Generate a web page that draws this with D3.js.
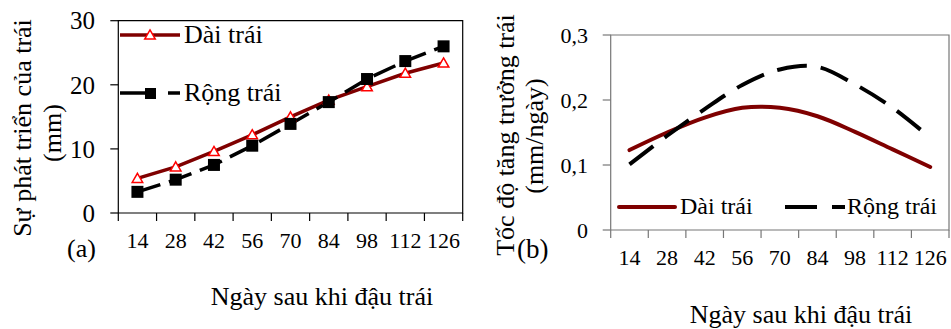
<!DOCTYPE html>
<html>
<head>
<meta charset="utf-8">
<script src="https://cdn.jsdelivr.net/npm/d3@7"></script>
<style>
  body { margin: 0; background: #fff; }
  text { font-family: "Liberation Serif", "Times New Roman", serif; fill: #000; }
</style>
</head>
<body>
<svg id="svg"></svg>
<script>
// days after fruit set
var days = [14, 28, 42, 56, 70, 84, 98, 112, 126];

// (a) fruit size, mm
var lengthMm = [5.4, 7.2, 9.6, 12.2, 15.0, 17.6, 19.7, 21.8, 23.4];
var widthMm  = [3.3, 5.2, 7.5, 10.5, 13.9, 17.3, 20.9, 23.7, 26.0];
var ticksA = [0, 10, 20, 30];

// (b) growth rate, mm/day
var lengthRate = [0.123, 0.150, 0.173, 0.188, 0.188, 0.175, 0.151, 0.124, 0.097];
var widthRate  = [0.101, 0.145, 0.186, 0.223, 0.247, 0.251, 0.224, 0.188, 0.142];
var ticksB = [0, 0.1, 0.2, 0.3];

var seriesNames = ["Dài trái", "Rộng trái"];
var xTitle = "Ngày sau khi đậu trái";

var W = 951, H = 329;
var darkRed = "#7f0000";

var svg = d3.select("#svg").attr("width", W).attr("height", H);
svg.append("rect").attr("width", W).attr("height", H).attr("fill", "#fff");

//////////////////////////////////////////////////////////////////////////////
function drawFrame(g, x, y, ticks, fmt, axisColor, yFont, yLabelRight, xLabelBase)
{
    var x0 = x.range()[0], x1 = x.range()[1];
    var yb = y.range()[0], yt = y.range()[1];

    // box: left, bottom, top, right
    g.append("path")
        .attr("d", "M" + x0 + "," + yb + "V" + yt + "H" + x1 + "V" + yb + "H" + x0)
        .attr("fill", "none").attr("stroke", axisColor).attr("stroke-width", 1.2);

    // y ticks
    ticks.forEach(function(t) {
        g.append("line")
            .attr("x1", x0 - 8).attr("x2", x0)
            .attr("y1", y(t)).attr("y2", y(t))
            .attr("stroke", axisColor).attr("stroke-width", 1.2);
        g.append("text")
            .attr("x", yLabelRight).attr("y", y(t))
            .attr("dy", "0.35em")
            .attr("text-anchor", "end")
            .style("font-size", yFont + "px")
            .text(fmt(t));
    });

    // x ticks at band edges
    var edges = days.map(function(d) { return x(d); }).concat([x1]);
    edges.forEach(function(e) {
        g.append("line")
            .attr("x1", e).attr("x2", e)
            .attr("y1", yb).attr("y2", yb + 8)
            .attr("stroke", axisColor).attr("stroke-width", 1.2);
    });
    days.forEach(function(d) {
        g.append("text")
            .attr("x", x(d) + x.bandwidth() / 2).attr("y", xLabelBase)
            .attr("text-anchor", "middle")
            .style("font-size", "22px")
            .text(d);
    });
}

function rotatedTitle(g, lines)
{
    lines.forEach(function(l) {
        g.append("text")
            .attr("transform", "translate(" + l.x + "," + l.y + ") rotate(-90)")
            .attr("text-anchor", "middle")
            .style("font-size", "26px")
            .text(l.text);
    });
}

//////////////////////////////////////////////////////////////////////////////
// (a)
var gA = svg.append("g");
var xA = d3.scaleBand().domain(days).range([118.3, 462.7]).padding(0);
var yA = d3.scaleLinear().domain([0, 30]).range([213, 20.7]);
var cxA = function(d, i) { return xA(days[i]) + xA.bandwidth() / 2; };

drawFrame(gA, xA, yA, ticksA, function(t) { return t; }, "#000", 25, 95, 248);

var lineA = d3.line().x(cxA).y(function(d) { return yA(d); });

gA.append("path").datum(lengthMm)
    .attr("d", lineA).attr("fill", "none")
    .attr("stroke", darkRed).attr("stroke-width", 3.5);
gA.append("path").datum(widthMm)
    .attr("d", lineA).attr("fill", "none")
    .attr("stroke", "#000").attr("stroke-width", 3.5)
    .attr("stroke-dasharray", "24,9");

var tri = d3.symbol().type(d3.symbolTriangle).size(48);
gA.selectAll(".tri").data(lengthMm).enter().append("path")
    .attr("transform", function(d, i) { return "translate(" + cxA(d, i) + "," + (yA(d) + 1) + ")"; })
    .attr("d", tri).attr("fill", "#fff").attr("stroke", "#ff0000").attr("stroke-width", 1.5);
gA.selectAll(".sq").data(widthMm).enter().append("rect")
    .attr("x", function(d, i) { return cxA(d, i) - 6; })
    .attr("y", function(d) { return yA(d) - 6; })
    .attr("width", 12).attr("height", 12)
    .attr("fill", "#000");

// legend (a)
gA.append("line").attr("x1", 120).attr("x2", 180).attr("y1", 35).attr("y2", 35)
    .attr("stroke", darkRed).attr("stroke-width", 3.5);
gA.append("path").attr("transform", "translate(150,36)").attr("d", tri)
    .attr("fill", "#fff").attr("stroke", "#ff0000").attr("stroke-width", 1.5);
gA.append("text").attr("x", 184).attr("y", 43).style("font-size", "26px").text(seriesNames[0]);

gA.append("line").attr("x1", 120).attr("x2", 180).attr("y1", 93).attr("y2", 93)
    .attr("stroke", "#000").attr("stroke-width", 3.5).attr("stroke-dasharray", "35,13");
gA.append("rect").attr("x", 145).attr("y", 88).attr("width", 11).attr("height", 11).attr("fill", "#000");
gA.append("text").attr("x", 184).attr("y", 101).style("font-size", "26px").text(seriesNames[1]);

rotatedTitle(gA, [
    {x: 31, y: 128, text: "Sự phát triển của trái"},
    {x: 61, y: 133, text: "(mm)"}
]);
gA.append("text").attr("x", 67).attr("y", 257).style("font-size", "26px").text("(a)");
gA.append("text").attr("x", 322).attr("y", 305).attr("text-anchor", "middle")
    .style("font-size", "26px").text(xTitle);

//////////////////////////////////////////////////////////////////////////////
// (b)
var gB = svg.append("g");
var xB = d3.scaleBand().domain(days).range([610.7, 949]).padding(0);
var yB = d3.scaleLinear().domain([0, 0.3]).range([230, 35]);
var cxB = function(d, i) { return xB(days[i]) + xB.bandwidth() / 2; };

drawFrame(gB, xB, yB, ticksB, function(t) { return t === 0 ? "0" : d3.format(".1f")(t).replace(".", ","); },
    "#777", 22, 588, 265);

var lineB = d3.line().x(cxB).y(function(d) { return yB(d); }).curve(d3.curveCatmullRom.alpha(0.5));

gB.append("path").datum(lengthRate)
    .attr("d", lineB).attr("fill", "none")
    .attr("stroke", darkRed).attr("stroke-width", 4).attr("stroke-linecap", "round");
gB.append("path").datum(widthRate)
    .attr("d", lineB).attr("fill", "none")
    .attr("stroke", "#000").attr("stroke-width", 4)
    .attr("stroke-dasharray", "30,14");

// legend (b)
gB.append("line").attr("x1", 619).attr("x2", 675).attr("y1", 207).attr("y2", 207)
    .attr("stroke", darkRed).attr("stroke-width", 4).attr("stroke-linecap", "round");
gB.append("text").attr("x", 680).attr("y", 214).style("font-size", "24px").text(seriesNames[0]);
gB.append("line").attr("x1", 785).attr("x2", 845).attr("y1", 207).attr("y2", 207)
    .attr("stroke", "#000").attr("stroke-width", 4).attr("stroke-dasharray", "32,15");
gB.append("text").attr("x", 847).attr("y", 214).style("font-size", "24px").text(seriesNames[1]);

rotatedTitle(gB, [
    {x: 514, y: 135, text: "Tốc độ tăng trưởng trái"},
    {x: 543, y: 136, text: "(mm/ngày)"}
]);
gB.append("text").attr("x", 517).attr("y", 258).style("font-size", "27px").text("(b)");
gB.append("text").attr("x", 801).attr("y", 323).attr("text-anchor", "middle")
    .style("font-size", "26px").text(xTitle);
</script>
</body>
</html>
